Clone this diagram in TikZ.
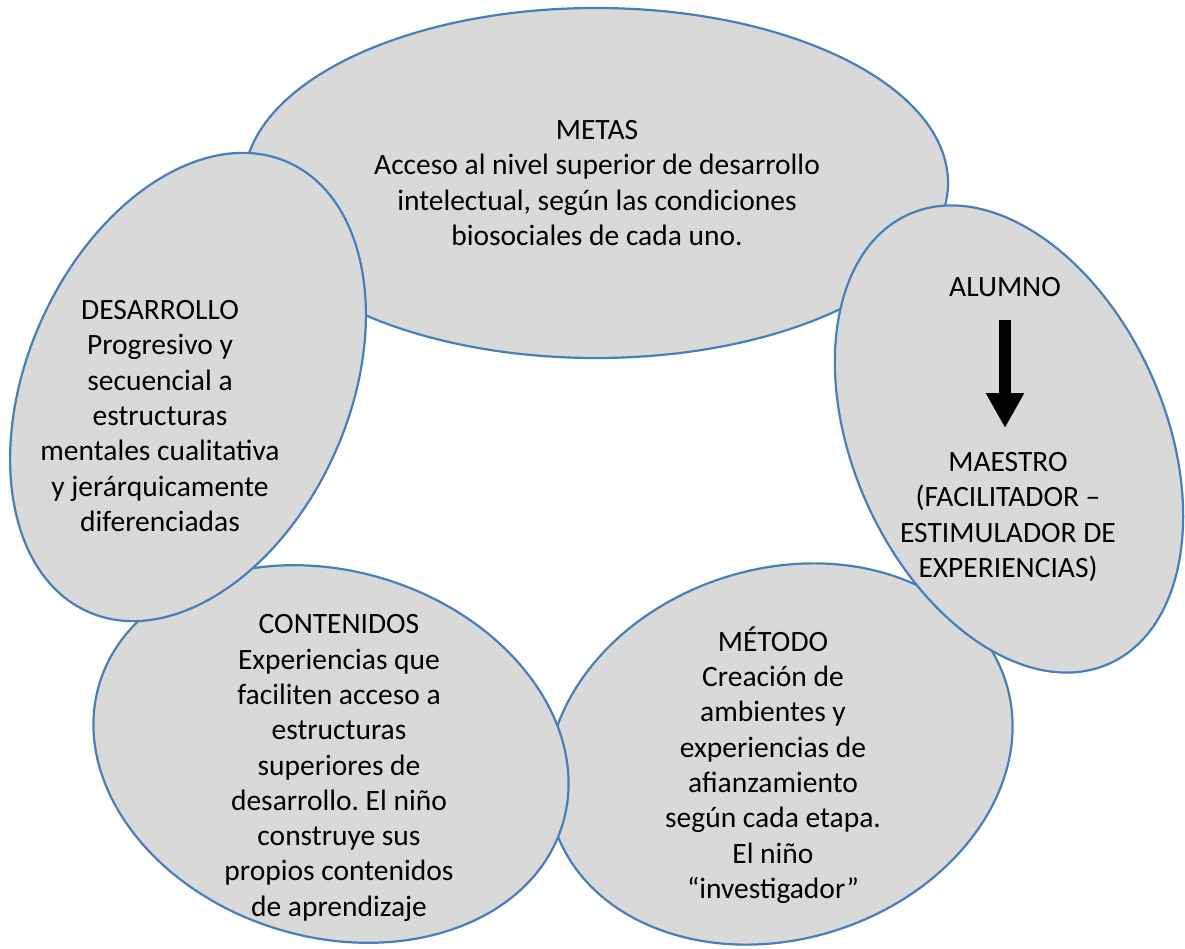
\documentclass[tikz,border=0pt]{standalone}
\usepackage{fontspec}
\setmainfont{Carlito}
\usetikzlibrary{shapes.geometric,arrows.meta}
\definecolor{blobfill}{HTML}{D9D9D9}
\definecolor{blobline}{RGB}{74,126,187}
\frenchspacing
\begin{document}
\begin{tikzpicture}[x=1pt,y=-1pt,
  blob/.style={ellipse, draw=blobline, fill=blobfill, line width=2.2pt, inner sep=0pt},
  txt/.style={align=center, inner sep=0pt, font=\fontsize{29.5}{35.3}\selectfont, text=black}]
\useasboundingbox[fill=white] (0,0) rectangle (1185,949);
% ellipses, back to front
\node[blob, minimum width=704pt, minimum height=350pt] (metasE) at (596,183) {};
\node[blob, minimum width=474pt, minimum height=370pt, rotate=18] (metodoE) at (780,754) {};
\node[blob, minimum width=484pt, minimum height=366pt, rotate=-17] (contE) at (331,754) {};
\node[blob, minimum width=322pt, minimum height=492pt, rotate=-24] (desE) at (188,387) {};
\node[blob, minimum width=312pt, minimum height=492pt, rotate=24] (alumE) at (1009,439) {};
% texts
\node[txt] (metas) at (597,183) {METAS\\Acceso al nivel superior de desarrollo\\intelectual, según las condiciones\\biosociales de cada uno.};
\node[txt] (des) at (160,416) {DESARROLLO\\Progresivo y\\secuencial a\\estructuras\\mentales cualitativa\\y jerárquicamente\\diferenciadas};
\node[txt] (alumno) at (1005,287) {ALUMNO};
\node[txt] (maestro) at (1008,517) {MAESTRO\\(FACILITADOR –\\ESTIMULADOR DE\\EXPERIENCIAS)};
\node[txt] (cont) at (339,768) {CONTENIDOS\\Experiencias que\\faciliten acceso a\\estructuras\\superiores de\\desarrollo. El niño\\construye sus\\propios contenidos\\de aprendizaje};
\node[txt] (metodo) at (773,765) {MÉTODO\\Creación de\\ambientes y\\experiencias de\\afianzamiento\\según cada etapa.\\El niño\\“investigador”};
% arrow
\coordinate (arrS) at (1005,320);
\coordinate (arrE) at (1005,428);
\draw[line width=12pt, -{Triangle[width=36pt,length=35pt]}] (arrS) -- (arrE);
\end{tikzpicture}
\end{document}
